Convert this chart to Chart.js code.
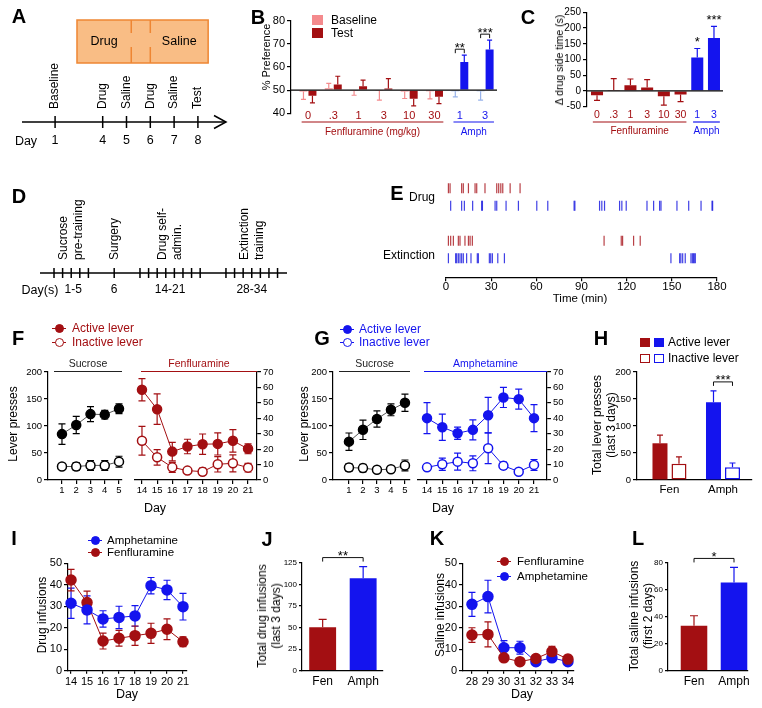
<!DOCTYPE html>
<html>
<head>
<meta charset="utf-8">
<script src="https://cdn.jsdelivr.net/npm/chart.js@4.4.1/dist/chart.umd.min.js"></script>
<style>
  html, body { margin: 0; padding: 0; background: #fff; }
  body { position: relative; width: 762px; height: 708px; overflow: hidden; font-family: 'Liberation Sans', Arial, sans-serif; }
  canvas { position: absolute; left: 0; top: 0; }
  .t { position: absolute; white-space: pre; line-height: 14px; text-align: center; color: #000; }
  .m { position: absolute; box-sizing: border-box; }
</style>
</head>
<body>
<script>
// ---- A: conditioning schedule
const condDays = [1, 4, 5, 6, 7, 8];
const condEvents = ['Baseline', 'Drug', 'Saline', 'Drug', 'Saline', 'Test'];
const condSlots = [0, 2, 3, 4, 5, 6];
const condBlocks = ['Drug', 'Saline'];

// ---- B / C: place preference
const cppDoses = ['0', '.3', '1', '3', '10', '30', '1', '3'];
const cppDrug = ['Fen', 'Fen', 'Fen', 'Fen', 'Fen', 'Fen', 'Amph', 'Amph'];
const prefBaseline = [49.4, 50.8, 49.6, 49.6, 49.4, 49.5, 49.5, 49.5];
const prefBaselineErr = [3.4, 2.1, 1.8, 3.9, 3.0, 3.3, 2.4, 3.8];
const prefTest = [47.6, 52.4, 51.7, 50.7, 46.3, 47.1, 62.2, 67.6];
const prefTestErr = [3.1, 3.6, 2.6, 4.3, 3.1, 2.9, 2.9, 4.0];
const prefSig = ['', '', '', '', '', '', '**', '***'];
const sideTime = [-14, 3, 18, 11, -17, -11, 106, 168];
const sideTimeErr = [16, 36, 20, 25, 28, 23, 29, 37];
const sideSig = ['', '', '', '', '', '', '*', '***'];

// ---- D: self-administration schedule
const phaseNames = [['Sucrose', 'pre-training'], ['Surgery'], ['Drug self-', 'admin.'], ['Extinction', 'training']];
const phaseDays = ['1-5', '6', '14-21', '28-34'];
const phaseSessions = [5, 1, 8, 7];

// ---- E: example raster (min)
const rasterRows = ['Drug', 'Extinction'];
const rasterDrugFen = [1.6, 2.7, 10.4, 11.5, 14.9, 19.3, 20.4, 25.9, 33.7, 35, 36.4, 37.7, 42.6, 49.2];
const rasterDrugAmph = [3.1, 10.4, 12.2, 17.7, 23.7, 24.2, 32.6, 33.7, 39.9, 48.1, 60.3, 67.6, 85.1, 85.6, 102, 103.5, 105.3, 115.3, 116.8, 119.7, 133.5, 137.9, 141.9, 142.8, 153.4, 161.2, 169.4, 176.7, 177.1];
const rasterExtFen = [1.6, 3.1, 4.9, 8.2, 9.3, 12.6, 14.9, 16, 17.5, 105, 116.4, 117.3, 124.6, 129];
const rasterExtAmph = [1.6, 6.4, 7.1, 8.2, 9.3, 10.4, 11.5, 13.7, 16.6, 20.8, 21.5, 28.8, 29.7, 30.8, 34.4, 38.8, 149.4, 155.2, 156, 157.2, 158.9, 162.7, 163.6, 164.3, 164.9, 165.6];

// ---- F / G: lever presses
const sectionNames = ['Sucrose', 'Fenfluramine', 'Amphetamine'];
const sucroseDays = [1, 2, 3, 4, 5];
const drugDays = [14, 15, 16, 17, 18, 19, 20, 21];
const fenSucActive = [85, 102, 122, 121, 132];
const fenSucActiveErr = [19, 16, 14, 8, 9];
const fenSucInactive = [25, 25, 27, 27, 34];
const fenSucInactiveErr = [5, 7, 9, 9, 10];
const fenActive = [58.5, 45.9, 18.4, 21.7, 23.2, 23.4, 25.4, 20.2];
const fenActiveErr = [7.2, 9.9, 6.0, 4.7, 6.6, 7.2, 7.3, 3.2];
const fenInactive = [25.4, 14.7, 8.2, 6.1, 5.4, 10.2, 10.8, 8.0];
const fenInactiveErr = [9.3, 5.0, 3.2, 1.5, 2.3, 5.0, 5.5, 2.8];
const amphSucActive = [71, 93, 113, 130, 143];
const amphSucActiveErr = [16, 18, 15, 11, 16];
const amphSucInactive = [23, 22, 19, 20, 27];
const amphSucInactiveErr = [7, 7, 4, 4, 10];
const amphActive = [40.1, 34.2, 30.3, 32.5, 42.0, 53.5, 52.4, 40.1];
const amphActiveErr = [10, 8.5, 4, 6.5, 11.5, 6.5, 6.5, 8.7];
const amphInactive = [8.2, 10.2, 11.9, 10.8, 20.6, 9.3, 5.4, 9.8];
const amphInactiveErr = [1.7, 4, 5.5, 4.8, 10, 2.3, 1.3, 3.5];

// ---- H: totals last 3 days
const drugGroups = ['Fen', 'Amph'];
const totalActive = [68, 144];
const totalActiveErr = [15, 21];
const totalInactive = [30, 23.5];
const totalInactiveErr = [13, 8];
const totalSig = ['', '***'];

// ---- I / J: drug infusions
const infAmph = [31.4, 28.3, 24.1, 24.8, 25.5, 39.6, 37.6, 29.8];
const infAmphErr = [7, 6.5, 3.8, 5.2, 4.8, 3.8, 4.5, 6.2];
const infFen = [42.2, 31.7, 13.8, 15.1, 16.3, 17.4, 19.3, 13.5];
const infFenErr = [5, 5.3, 3.7, 3.7, 4.5, 4.7, 4.8, 2.3];
const last3Inf = [50.2, 107];
const last3InfErr = [9.3, 13.5];
const last3Sig = '**';

// ---- K / L: saline infusions
const extDays = [28, 29, 30, 31, 32, 33, 34];
const salFen = [16.6, 16.9, 6.0, 4.2, 5.7, 8.9, 5.4];
const salFenErr = [3.4, 5.8, 1.5, 1.0, 1.2, 2.4, 1.8];
const salAmph = [30.9, 34.5, 10.7, 10.7, 4.2, 6.0, 4.2];
const salAmphErr = [5.6, 7.6, 3.3, 3.0, 0.8, 0.8, 1.2];
const first2Sal = [33.3, 65.4];
const first2SalErr = [7.4, 11.1];
const first2Sig = '*';

const RED = '#a30f12', BLUE = '#1414ee', PINK = '#f48a8d', LBLUE = '#98b3ea';
const FONT = "'Liberation Sans', Arial, sans-serif";
const W = 762, H = 708, AXW = 40, AXH = 24;

Chart.defaults.font.family = FONT;
Chart.defaults.color = '#000';

const xy = (xs, ys) => xs.map((x, i) => ({ x, y: ys[i] }));
const idx = arr => arr.map((_, i) => i);

function padFor([L, T, R, B], axes) {
  return {
    left: L - (axes.includes('l') ? AXW : 0),
    top: T,
    right: W - R - (axes.includes('r') ? AXW : 0),
    bottom: H - B - (axes.includes('b') ? AXH : 0)
  };
}

function yAx(min, max, step, o = {}) {
  return {
    type: 'linear', position: o.pos || 'left', min, max, beginAtZero: false,
    afterFit: a => { a.width = AXW; },
    border: { color: '#000', width: 1.2 },
    grid: { drawOnChartArea: false, tickLength: o.tl || 4, color: '#000', lineWidth: 1.2 },
    ticks: { stepSize: step, padding: 2, color: '#000', autoSkip: false, font: { size: o.size || 9.5 } }
  };
}

function xAx(min, max, o = {}) {
  const s = {
    type: 'linear', min, max, offset: false,
    afterFit: a => { a.height = AXH; },
    border: { display: o.border !== false, color: '#000', width: 1.2 },
    grid: { display: !!o.marks, drawOnChartArea: false, drawTicks: !!o.marks, tickLength: o.tl || 4, color: '#000', lineWidth: 1.2, offset: false },
    ticks: { display: o.labelsOff !== true, autoSkip: false, maxRotation: 0, minRotation: 0, padding: o.pad ?? 2, color: o.color || '#000', font: { size: o.size || 11 }, stepSize: o.step }
  };
  if (o.at) {
    s.afterBuildTicks = a => { a.ticks = o.at.map(v => ({ value: v })); };
    s.ticks.callback = (v, i) => String((o.labels || o.at)[i]);
  }
  return s;
}

function mk(type, datasets, plot, axes, scales, plugins = []) {
  const c = document.createElement('canvas');
  c.width = W; c.height = H;
  document.body.appendChild(c);
  return new Chart(c, {
    type,
    data: { datasets },
    options: {
      responsive: false, animation: false, events: [],
      layout: { padding: padFor(plot, axes), autoPadding: false },
      plugins: { legend: { display: false }, tooltip: { enabled: false } },
      scales
    },
    plugins: [errorBars, ...plugins]
  });
}

// SEM whiskers, drawn under the marks
const errorBars = {
  id: 'errorBars',
  beforeDatasetsDraw(chart) {
    const ctx = chart.ctx;
    chart.data.datasets.forEach((ds, di) => {
      if (!ds.err) return;
      const meta = chart.getDatasetMeta(di);
      const ys = chart.scales[meta.yAxisID];
      const base = ds.base ?? 0;
      const cols = [].concat(ds.errColor || ds.backgroundColor);
      meta.data.forEach((el, i) => {
        const v = ds.data[i].y, e = ds.err[i];
        let lo = v - e, hi = v + e;
        if (ds.errDir === 'away') { if (v >= base) lo = v; else hi = v; }
        const x = el.x, y1 = ys.getPixelForValue(lo), y2 = ys.getPixelForValue(hi), cw = ds.capW || 3;
        ctx.save();
        ctx.strokeStyle = cols[i % cols.length];
        ctx.lineWidth = 1.2;
        ctx.beginPath();
        ctx.moveTo(x, y1); ctx.lineTo(x, y2);
        if (lo < v) { ctx.moveTo(x - cw, y1); ctx.lineTo(x + cw, y1); }
        if (hi > v) { ctx.moveTo(x - cw, y2); ctx.lineTo(x + cw, y2); }
        ctx.stroke();
        ctx.restore();
      });
    });
  }
};

function deco(fn, when = 'afterDatasetsDraw') {
  return { id: 'deco', [when]: chart => { const ctx = chart.ctx; ctx.save(); fn(chart, ctx); ctx.restore(); } };
}

function ctext(ctx, s, x, y, o = {}) {
  ctx.save();
  ctx.font = `${o.bold ? 'bold ' : ''}${o.size || 12}px ${FONT}`;
  ctx.fillStyle = o.color || '#000';
  ctx.textAlign = o.align || 'center';
  ctx.textBaseline = o.base || 'middle';
  ctx.translate(x, y);
  if (o.rot) ctx.rotate(-Math.PI / 2);
  ctx.fillText(s, 0, 0);
  ctx.restore();
}

function seg(ctx, x1, y1, x2, y2, color, w) {
  ctx.save();
  ctx.strokeStyle = color; ctx.lineWidth = w;
  ctx.beginPath(); ctx.moveTo(x1, y1); ctx.lineTo(x2, y2); ctx.stroke();
  ctx.restore();
}

function sigBracket(ctx, x1, x2, y, label) {
  ctx.save();
  ctx.strokeStyle = '#111'; ctx.lineWidth = 1;
  ctx.beginPath(); ctx.moveTo(x1, y + 4); ctx.lineTo(x1, y); ctx.lineTo(x2, y); ctx.lineTo(x2, y + 4); ctx.stroke();
  ctx.restore();
  ctext(ctx, label, (x1 + x2) / 2, y + 2.5, { size: 13, base: 'alphabetic' });
}

function series(xs, ys, err, color, filled, r = 4.5, lineColor = color) {
  return {
    data: xy(xs, ys), err, errDir: 'both', errColor: color, capW: 3.5,
    borderColor: lineColor, borderWidth: 1, tension: 0, clip: false,
    pointRadius: r, pointBorderWidth: 1.5, pointBorderColor: color,
    pointBackgroundColor: filled ? color : '#fff', backgroundColor: filled ? color : '#fff'
  };
}

// dose labels + drug group underline for B and C
function underGroups(names, labelY, lineY, textY, labelSize) {
  return (ch, ctx) => {
    const xs = ch.scales.x;
    cppDoses.forEach((d, i) => {
      ctext(ctx, d, xs.getPixelForValue(i), labelY, { size: labelSize, color: cppDrug[i] === 'Fen' ? RED : BLUE });
    });
    drugGroups.forEach(g => {
      const ii = idx(cppDrug).filter(i => cppDrug[i] === g);
      const x1 = xs.getPixelForValue(ii[0] - 0.25), x2 = xs.getPixelForValue(ii[ii.length - 1] + 0.35);
      const col = g === 'Fen' ? RED : BLUE;
      seg(ctx, x1, lineY, x2, lineY, col, 1.2);
      ctext(ctx, names[g], (x1 + x2) / 2, textY, { size: 10, color: col });
    });
  };
}

function topGroup(label, color) {
  return deco((ch, ctx) => {
    const a = ch.chartArea;
    seg(ctx, a.left + 6, 371.5, a.right, 371.5, color, 1.2);
    ctext(ctx, label, (a.left + 6 + a.right) / 2, 364, { size: 10.5, color });
  });
}

const grpColor = (a, b) => cppDrug.map(d => d === 'Fen' ? a : b);

// ================= A
mk('scatter', [{
  data: condSlots.map(s => ({ x: s, y: 0 })), pointStyle: 'line', pointRotation: 90,
  pointRadius: 6, pointBorderColor: '#000', pointBorderWidth: 1.5
}], [22, 100, 226, 144], '', {
  x: { type: 'linear', display: false, min: -1.39, max: 7.18 },
  y: { type: 'linear', display: false, min: -1, max: 1 }
}, [deco((ch, ctx) => {
  const xs = ch.scales.x, y0 = ch.scales.y.getPixelForValue(0);
  const bx1 = xs.getPixelForValue(0.92), bx2 = xs.getPixelForValue(6.43);
  const d1 = xs.getPixelForValue(3.2), d2 = xs.getPixelForValue(4);
  ctx.fillStyle = '#f9bd85';
  ctx.fillRect(bx1, 20, bx2 - bx1, 43);
  ctx.strokeStyle = '#ee8633'; ctx.lineWidth = 1.5;
  ctx.strokeRect(bx1, 20, bx2 - bx1, 43);
  ctx.setLineDash([13, 14, 30]);
  [d1, d2].forEach(x => { ctx.beginPath(); ctx.moveTo(x, 20); ctx.lineTo(x, 63); ctx.stroke(); });
  ctx.setLineDash([]);
  ctext(ctx, condBlocks[0], (bx1 + d1) / 2, 42, { size: 12.5 });
  ctext(ctx, condBlocks[1], (d2 + bx2) / 2, 42, { size: 12.5 });
  seg(ctx, xs.left, y0, xs.right, y0, '#000', 1.5);
  ctx.strokeStyle = '#000'; ctx.lineWidth = 1.5;
  ctx.beginPath(); ctx.moveTo(xs.right - 12, y0 - 6.5); ctx.lineTo(xs.right, y0); ctx.lineTo(xs.right - 12, y0 + 6.5); ctx.stroke();
  condSlots.forEach((s, i) => {
    const x = xs.getPixelForValue(s);
    ctext(ctx, condEvents[i], x, 109, { rot: true, align: 'left' });
    ctext(ctx, String(condDays[i]), x, 141, { size: 12.5 });
  });
}, 'beforeDatasetsDraw')]);

// ================= B
mk('bar', [
  { data: xy(idx(cppDoses), prefBaseline), err: prefBaselineErr, base: 50, errDir: 'away', backgroundColor: grpColor(PINK, LBLUE), categoryPercentage: 0.71, barPercentage: 0.89, capW: 2.5 },
  { data: xy(idx(cppDoses), prefTest), err: prefTestErr, base: 50, errDir: 'away', backgroundColor: grpColor(RED, BLUE), categoryPercentage: 0.71, barPercentage: 0.89, capW: 2.5 }
], [291, 20.7, 497, 113.3], 'lb', {
  x: xAx(-0.67, 7.47, { at: idx(cppDoses), labels: cppDoses, border: false, labelsOff: true }),
  y: yAx(40, 80, 10, { size: 11 })
}, [deco((ch, ctx) => {
  const a = ch.chartArea, ys = ch.scales.y;
  seg(ctx, a.left, ys.getPixelForValue(50), a.right, ys.getPixelForValue(50), '#000', 1.2);
  underGroups({ Fen: 'Fenfluramine (mg/kg)', Amph: 'Amph' }, 115.5, 122, 132, 11)(ch, ctx);
  const m0 = ch.getDatasetMeta(0), m1 = ch.getDatasetMeta(1);
  prefSig.forEach((s, i) => {
    if (!s) return;
    sigBracket(ctx, m0.data[i].x, m1.data[i].x, ys.getPixelForValue(prefTest[i] + prefTestErr[i]) - 6, s);
  });
})]);

// ================= C
mk('bar', [
  { data: xy(idx(cppDoses), sideTime), err: sideTimeErr, base: 0, errDir: 'away', backgroundColor: grpColor(RED, BLUE), categoryPercentage: 0.8, barPercentage: 0.9, capW: 3 }
], [587, 12.3, 723, 106.7], 'lb', {
  x: xAx(-0.6, 7.54, { at: idx(cppDoses), labels: cppDoses, border: false, labelsOff: true }),
  y: yAx(-50, 250, 50, { size: 10 })
}, [deco((ch, ctx) => {
  const a = ch.chartArea, ys = ch.scales.y;
  seg(ctx, a.left, ys.getPixelForValue(0), a.right, ys.getPixelForValue(0), '#000', 1.2);
  underGroups({ Fen: 'Fenfluramine', Amph: 'Amph' }, 115, 122, 131, 10.5)(ch, ctx);
  const m = ch.getDatasetMeta(0);
  sideSig.forEach((s, i) => {
    if (!s) return;
    ctext(ctx, s, m.data[i].x, ys.getPixelForValue(sideTime[i] + sideTimeErr[i]) - 2, { size: 13, base: 'alphabetic' });
  });
})]);

// ================= D
let slot = 0;
const phaseSlots = phaseSessions.map(n => { const s = Array.from({ length: n }, (_, k) => slot + k); slot += n + 2; return s; });
mk('scatter', [{
  data: phaseSlots.flat().map(s => ({ x: s, y: 0 })), pointStyle: 'line', pointRotation: 90,
  pointRadius: 5, pointBorderColor: '#000', pointBorderWidth: 1.5
}], [40, 255, 287, 291], '', {
  x: { type: 'linear', display: false, min: -1.63, max: 27.1 },
  y: { type: 'linear', display: false, min: -1, max: 1 }
}, [deco((ch, ctx) => {
  const xs = ch.scales.x, y0 = ch.scales.y.getPixelForValue(0);
  seg(ctx, xs.left, y0, xs.right, y0, '#000', 1.5);
  phaseSlots.forEach((s, p) => {
    const xc = xs.getPixelForValue((s[0] + s[s.length - 1]) / 2);
    const lines = phaseNames[p];
    lines.forEach((ln, j) => ctext(ctx, ln, xc + (j - (lines.length - 1) / 2) * 15, 260, { rot: true, align: 'left' }));
    ctext(ctx, phaseDays[p], xc + (p === 0 ? 2 : 0), 290);
  });
}, 'beforeDatasetsDraw')]);

// ================= E
mk('scatter', [
  { data: rasterDrugFen.map(t => ({ x: t, y: 4 })), pointBorderColor: 'rgba(172,30,38,0.85)' },
  { data: rasterDrugAmph.map(t => ({ x: t, y: 3 })), pointBorderColor: 'rgba(30,30,225,0.85)' },
  { data: rasterExtFen.map(t => ({ x: t, y: 1 })), pointBorderColor: 'rgba(172,30,38,0.85)' },
  { data: rasterExtAmph.map(t => ({ x: t, y: 0 })), pointBorderColor: 'rgba(30,30,225,0.85)' }
].map(d => Object.assign({ pointStyle: 'line', pointRotation: 90, pointRadius: 5, pointBorderWidth: 1.2 }, d)),
[446, 180, 717, 277.3], 'b', {
  x: xAx(0, 180, { step: 30, marks: true, size: 11.5, pad: -1 }),
  y: { type: 'linear', display: false, min: -1.086, max: 4.474 }
});

// ================= F
mk('line', [
  series(sucroseDays, fenSucActive, fenSucActiveErr, '#000', true, 4.5, '#555'),
  series(sucroseDays, fenSucInactive, fenSucInactiveErr, '#000', false, 4.5, '#555')
], [48, 372, 122, 480], 'lb', {
  x: xAx(0.02, 5.21, { at: sucroseDays, marks: true, size: 9.5, pad: 1 }),
  y: yAx(0, 200, 50)
}, [topGroup(sectionNames[0], '#222')]);

mk('line', [
  series(drugDays, fenActive, fenActiveErr, RED, true),
  series(drugDays, fenInactive, fenInactiveErr, RED, false)
], [135, 372, 257, 480], 'rb', {
  x: xAx(13.54, 21.59, { at: drugDays, marks: true, size: 9.5, pad: 1 }),
  y: yAx(0, 70, 10, { pos: 'right' })
}, [topGroup(sectionNames[1], RED)]);

// ================= G
mk('line', [
  series(sucroseDays, amphSucActive, amphSucActiveErr, '#000', true, 4.5, '#555'),
  series(sucroseDays, amphSucInactive, amphSucInactiveErr, '#000', false, 4.5, '#555')
], [333, 372, 410, 480], 'lb', {
  x: xAx(-0.14, 5.36, { at: sucroseDays, marks: true, size: 9.5, pad: 1 }),
  y: yAx(0, 200, 50)
}, [topGroup(sectionNames[0], '#222')]);

mk('line', [
  series(drugDays, amphActive, amphActiveErr, BLUE, true),
  series(drugDays, amphInactive, amphInactiveErr, BLUE, false)
], [418, 372, 547, 480], 'rb', {
  x: xAx(13.41, 21.85, { at: drugDays, marks: true, size: 9.5, pad: 1 }),
  y: yAx(0, 70, 10, { pos: 'right' })
}, [topGroup(sectionNames[2], BLUE)]);

// ================= H
mk('bar', [
  { data: xy(idx(drugGroups), totalActive), err: totalActiveErr, errDir: 'away', backgroundColor: [RED, BLUE], categoryPercentage: 0.71, barPercentage: 0.79, capW: 3 },
  { data: xy(idx(drugGroups), totalInactive), err: totalInactiveErr, errDir: 'away', backgroundColor: '#fff', borderColor: [RED, BLUE], errColor: [RED, BLUE], borderWidth: 1.5, borderSkipped: false, categoryPercentage: 0.71, barPercentage: 0.79, capW: 3 }
], [637, 372, 752, 480], 'lb', {
  x: xAx(-0.607, 1.542, { at: idx(drugGroups), labels: drugGroups, size: 11.5, pad: 3 }),
  y: yAx(0, 200, 50)
}, [deco((ch, ctx) => {
  const ys = ch.scales.y, m0 = ch.getDatasetMeta(0), m1 = ch.getDatasetMeta(1);
  totalSig.forEach((s, i) => {
    if (!s) return;
    const top = Math.max(totalActive[i] + totalActiveErr[i], totalInactive[i] + totalInactiveErr[i]);
    sigBracket(ctx, m0.data[i].x, m1.data[i].x, ys.getPixelForValue(top) - 9, s);
  });
})]);

// ================= I
mk('line', [
  series(drugDays, infAmph, infAmphErr, BLUE, true, 5),
  series(drugDays, infFen, infFenErr, RED, true, 5)
], [68, 563.3, 187, 670.7], 'lb', {
  x: xAx(13.81, 21.25, { at: drugDays, marks: true, tl: 3, size: 11, pad: 2 }),
  y: yAx(0, 50, 10, { size: 11 })
});

// ================= J and L
function pairBars(vals, errs, sig, plot, xr, ymax, ystep) {
  mk('bar', [
    { data: xy(idx(drugGroups), vals), err: errs, errDir: 'away', backgroundColor: [RED, BLUE], categoryPercentage: 0.8, barPercentage: 0.83, capW: 4 }
  ], plot, 'lb', {
    x: xAx(xr[0], xr[1], { at: idx(drugGroups), labels: drugGroups, size: 12, pad: 4 }),
    y: yAx(0, ymax, ystep, { size: 8, tl: 3 })
  }, [deco((ch, ctx) => {
    const ys = ch.scales.y, m = ch.getDatasetMeta(0);
    const top = Math.max(...vals.map((v, i) => v + errs[i]));
    sigBracket(ctx, m.data[0].x, m.data[1].x, ys.getPixelForValue(top) - 9, sig);
  })]);
}
pairBars(last3Inf, last3InfErr, last3Sig, [302, 562.7, 383, 670.7], [-0.51, 1.49], 125, 25);
pairBars(first2Sal, first2SalErr, first2Sig, [668, 562.7, 748, 670.7], [-0.65, 1.35], 80, 20);

// ================= K
mk('line', [
  series(extDays, salFen, salFenErr, RED, true, 5),
  series(extDays, salAmph, salAmphErr, BLUE, true, 5)
], [463, 563.3, 574, 670.7], 'lb', {
  x: xAx(27.44, 34.38, { at: extDays, marks: true, tl: 3, size: 11, pad: 2 }),
  y: yAx(0, 50, 10, { size: 11 })
});

// ---------------- static text, legends
function addText(str, x, y, o = {}) {
  const d = document.createElement('div');
  d.className = 't';
  d.textContent = str;
  const tx = o.align === 'left' ? '0' : o.align === 'right' ? '-100%' : '-50%';
  d.style.left = x + 'px';
  d.style.top = y + 'px';
  d.style.fontSize = (o.size || 12) + 'px';
  if (o.color) d.style.color = o.color;
  if (o.bold) d.style.fontWeight = 'bold';
  if (o.lh) d.style.lineHeight = o.lh + 'px';
  d.style.transform = `translate(${tx},-50%)` + (o.rot ? ' rotate(-90deg)' : '');
  document.body.appendChild(d);
}
function box(x, y, w, h, css) {
  const d = document.createElement('div');
  d.className = 'm';
  d.style.cssText += `left:${x}px;top:${y}px;width:${w}px;height:${h}px;${css}`;
  document.body.appendChild(d);
}
function legPoint(x, y, color, filled) {
  box(x - 7, y - 0.5, 14, 1, `background:${color}`);
  box(x - 4.5, y - 4.5, 9, 9, `border-radius:50%;border:1.5px solid ${color};background:${filled ? color : '#fff'}`);
}
function legSquare(x, y, w, h, color, filled) {
  box(x, y, w, h, filled ? `background:${color}` : `border:1.5px solid ${color};background:#fff`);
}

[['A', 19, 16], ['B', 258, 17], ['C', 528, 17], ['D', 19, 196], ['E', 397, 193], ['F', 18, 338], ['G', 322, 338],
 ['H', 601, 338], ['I', 14, 538], ['J', 267, 539], ['K', 437, 538], ['L', 638, 538]]
  .forEach(([s, x, y]) => addText(s, x, y, { size: 20, bold: true }));

addText('Day', 26, 141, { size: 12.5 });
addText('Day(s)', 40, 290, { size: 12.5 });
addText('% Preference', 266, 57, { size: 11, rot: true });
addText('\u0394 drug side time (s)', 559, 60, { size: 10.5, rot: true });
addText(rasterRows[0], 435, 197, { align: 'right' });
addText(rasterRows[1], 435, 255, { align: 'right' });
addText('Time (min)', 580, 298, { size: 11.5 });
addText('Lever presses', 13, 424, { rot: true });
addText('Lever presses', 304, 424, { rot: true });
addText('Day', 155, 508, { size: 12.5 });
addText('Day', 443, 508, { size: 12.5 });
addText('Total lever presses\n(last 3 days)', 604, 425, { rot: true });
addText('Drug infusions', 42, 615, { rot: true });
addText('Total drug infusions\n(last 3 days)', 269, 616, { rot: true });
addText('Saline infusions', 440, 615, { rot: true });
addText('Total saline infusions\n(first 2 days)', 641, 616, { rot: true });
addText('Day', 127, 694, { size: 12.5 });
addText('Day', 522, 694, { size: 12.5 });

// B legend
legSquare(312, 15, 11, 10, PINK, true);
legSquare(312, 28, 11, 10, RED, true);
addText('Baseline', 331, 20, { align: 'left' });
addText('Test', 331, 33, { align: 'left' });
// F legend
legPoint(59, 328, RED, true); legPoint(59, 342, RED, false);
addText('Active lever', 72, 328, { align: 'left', color: RED });
addText('Inactive lever', 72, 342, { align: 'left', color: RED });
// G legend
legPoint(347, 329, BLUE, true); legPoint(347, 342, BLUE, false);
addText('Active lever', 359, 329, { align: 'left', color: BLUE });
addText('Inactive lever', 359, 342, { align: 'left', color: BLUE });
// H legend
legSquare(640, 338, 10, 9, RED, true); legSquare(654, 338, 10, 9, BLUE, true);
legSquare(640, 354, 10, 9, RED, false); legSquare(654, 354, 10, 9, BLUE, false);
addText('Active lever', 668, 342, { align: 'left' });
addText('Inactive lever', 668, 358, { align: 'left' });
// I legend
legPoint(95, 540, BLUE, true); legPoint(95, 552, RED, true);
addText('Amphetamine', 107, 540, { align: 'left', size: 11.5 });
addText('Fenfluramine', 107, 552, { align: 'left', size: 11.5 });
// K legend
legPoint(504, 561, RED, true); legPoint(504, 576, BLUE, true);
addText('Fenfluramine', 517, 561, { align: 'left', size: 11.5 });
addText('Amphetamine', 517, 576, { align: 'left', size: 11.5 });
</script>
</body>
</html>
